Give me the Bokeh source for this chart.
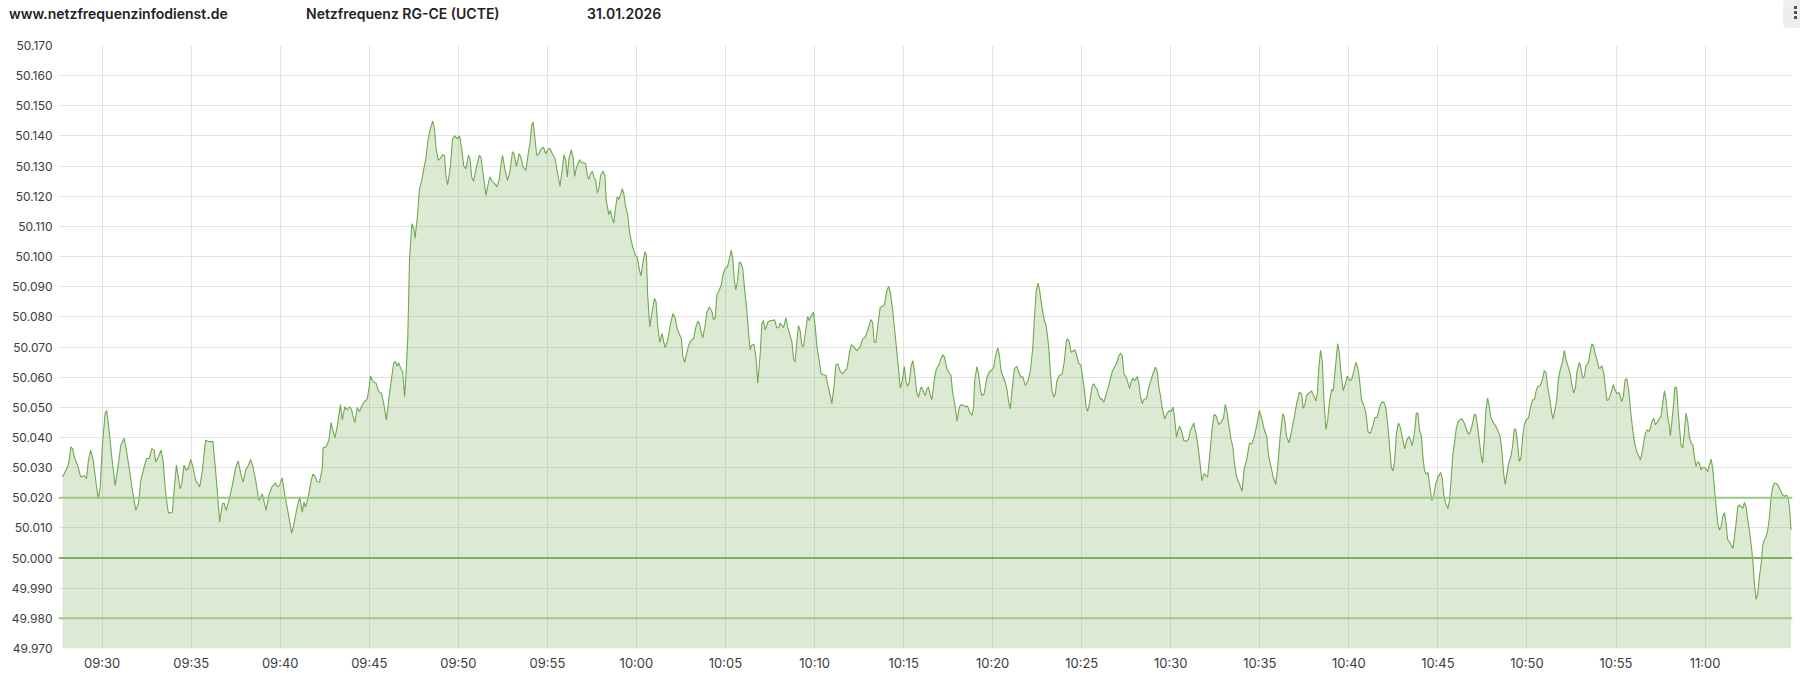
import pandas as pd
from bokeh.plotting import figure
from bokeh.layouts import column
from bokeh.models import (Range1d, FixedTicker, NumeralTickFormatter,
                          DatetimeTickFormatter, Span, Div)
from bokeh.embed import file_html
from bokeh.resources import INLINE

# ---------------- data ----------------
site_text = "www.netzfrequenzinfodienst.de"
title_text = "Netzfrequenz RG-CE (UCTE)"
date_text = "31.01.2026"
day = "2026-01-31"
reference_time = "09:30"

# minutes after 09:30
minutes = [
    -2.22, -2.13, -1.94, -1.85, -1.76, -1.66, -1.57, -1.38, -1.20, -1.01,
    -0.88, -0.77, -0.65, -0.50, -0.36, -0.22, -0.11, 0.02, 0.17, 0.26,
    0.39, 0.54, 0.73, 0.86, 1.05, 1.23, 1.36, 1.51, 1.70, 1.89,
    2.04, 2.17, 2.36, 2.49, 2.64, 2.79, 2.92, 3.01, 3.16, 3.31,
    3.42, 3.57, 3.72, 3.94, 4.06, 4.17, 4.28, 4.37, 4.47, 4.60,
    4.73, 4.84, 4.97, 5.10, 5.25, 5.48, 5.63, 5.81, 6.00, 6.22,
    6.37, 6.52, 6.60, 6.75, 6.84, 6.97, 7.12, 7.31, 7.50, 7.64,
    7.78, 7.91, 8.06, 8.21, 8.34, 8.47, 8.62, 8.80, 8.99, 9.21,
    9.36, 9.55, 9.74, 9.83, 9.96, 10.11, 10.26, 10.49, 10.64, 10.77,
    10.95, 11.10, 11.23, 11.33, 11.42, 11.57, 11.70, 11.83, 11.98, 12.07,
    12.21, 12.36, 12.41, 12.58, 12.73, 12.86, 12.95, 13.07, 13.20, 13.38,
    13.48, 13.63, 13.76, 13.89, 14.00, 14.07, 14.19, 14.32, 14.45, 14.56,
    14.69, 14.88, 14.97, 15.07, 15.20, 15.38, 15.53, 15.68, 15.81, 15.96,
    16.09, 16.19, 16.37, 16.47, 16.56, 16.65, 16.80,
    16.88, 16.98, 17.07, 17.16, 17.26, 17.39, 17.50, 17.57, 17.69, 17.82,
    17.95, 18.06, 18.19, 18.28, 18.43, 18.56, 18.66, 18.75, 18.88, 18.99,
    19.12, 19.22, 19.31, 19.40, 19.55, 19.68, 19.81, 19.93, 20.07, 20.19,
    20.30, 20.43, 20.56, 20.65, 20.75, 20.86, 20.99, 21.18, 21.27, 21.40,
    21.55, 21.68, 21.77, 21.92, 22.05, 22.16, 22.29, 22.39, 22.48, 22.61,
    22.76, 22.89, 23.04, 23.13, 23.26, 23.41, 23.51, 23.64, 23.79, 23.94,
    24.03, 24.12, 24.20, 24.29, 24.40, 24.53, 24.63, 24.78, 24.91, 25.00,
    25.13, 25.28, 25.43, 25.56, 25.71, 25.84, 25.93, 26.03, 26.12, 26.21,
    26.34, 26.44, 26.53, 26.64, 26.81, 26.92, 27.05, 27.15, 27.24, 27.33,
    27.43, 27.52, 27.61, 27.71, 27.80, 27.89, 27.99, 28.12, 28.23, 28.30,
    28.45, 28.54, 28.64, 28.73, 28.82, 28.92, 29.01, 29.10, 29.20, 29.29,
    29.38, 29.51, 29.61, 29.72, 29.81, 29.94, 30.04, 30.17, 30.26, 30.37,
    30.47, 30.56, 30.63, 30.75, 30.88, 31.01, 31.10, 31.19, 31.31, 31.44,
    31.53, 31.62, 31.75, 31.90, 32.05, 32.18, 32.28, 32.43, 32.52, 32.61,
    32.71, 32.84, 32.93, 33.08, 33.21, 33.34, 33.45, 33.54, 33.64, 33.73,
    33.86, 33.96, 34.10, 34.24, 34.33, 34.42, 34.51, 34.65, 34.76, 34.85,
    34.98, 35.11, 35.22, 35.32, 35.41, 35.49, 35.58, 35.67, 35.78, 35.88,
    35.97, 36.06, 36.19, 36.29, 36.38, 36.47, 36.60, 36.72, 36.81,
    36.95, 37.04, 37.13, 37.23, 37.38, 37.51, 37.64, 37.75, 37.88, 37.98,
    38.07, 38.16, 38.26, 38.39, 38.50, 38.63, 38.73, 38.82, 38.91, 39.01,
    39.10, 39.19, 39.29, 39.38, 39.48, 39.61, 39.70, 39.81, 39.94, 40.04,
    40.15, 40.26, 40.37, 40.51, 40.64, 40.73, 40.82, 40.97, 41.09, 41.20,
    41.31, 41.44, 41.57, 41.69, 41.82, 41.95, 42.06, 42.19, 42.28, 42.38,
    42.57, 42.70, 42.85, 43.03, 43.16, 43.26, 43.35, 43.45, 43.56, 43.69,
    43.78, 43.93, 44.06, 44.16, 44.25, 44.38, 44.53, 44.68, 44.81, 44.91,
    45.04, 45.13, 45.22, 45.32, 45.43, 45.52, 45.62, 45.73, 45.84, 45.96,
    46.03, 46.12, 46.22, 46.31, 46.40, 46.50, 46.59, 46.72, 46.84, 46.97,
    47.10, 47.21, 47.30, 47.43, 47.57, 47.66, 47.75, 47.90, 48.00, 48.13,
    48.24, 48.37, 48.50, 48.60, 48.71, 48.84, 48.93, 48.99, 49.12, 49.21,
    49.31, 49.40, 49.51, 49.59, 49.68, 49.81, 49.93, 50.06, 50.15, 50.28,
    50.37, 50.47, 50.58, 50.71, 50.81, 50.90, 50.99, 51.09, 51.22, 51.37,
    51.46, 51.59, 51.69, 51.84, 51.99, 52.12, 52.25, 52.36, 52.45, 52.55,
    52.64, 52.77, 52.90, 53.01, 53.15, 53.24, 53.33, 53.43, 53.52, 53.61,
    53.75, 53.90, 54.03, 54.14, 54.21, 54.31, 54.40, 54.49, 54.61, 54.70,
    54.83, 54.96, 55.06, 55.15, 55.24, 55.34, 55.45, 55.58, 55.67, 55.77,
    55.86, 55.96, 56.05, 56.14, 56.24, 56.33, 56.46, 56.61,
    56.72, 56.81, 56.96, 57.09, 57.18, 57.28, 57.37, 57.52, 57.69, 57.78,
    57.87, 57.97, 58.12, 58.21, 58.30, 58.40, 58.49, 58.64, 58.73, 58.86,
    59.01, 59.14, 59.24, 59.33, 59.42, 59.51, 59.66, 59.79, 59.93, 60.02,
    60.13, 60.21, 60.32, 60.41, 60.50, 60.60, 60.73, 60.88, 61.01, 61.10,
    61.19, 61.29, 61.42, 61.51, 61.62, 61.75, 61.87, 61.98, 62.07, 62.18,
    62.31, 62.44, 62.56, 62.69, 62.82, 62.97, 63.06, 63.15, 63.25, 63.38,
    63.49, 63.58, 63.71, 63.86, 64.01, 64.12, 64.27, 64.42, 64.55, 64.68,
    64.83, 64.98, 65.11, 65.24, 65.39, 65.49, 65.62, 65.76, 65.90, 66.01,
    66.14, 66.29, 66.38, 66.51, 66.64, 66.79, 66.94, 67.07, 67.22, 67.35,
    67.44, 67.54, 67.63, 67.78, 67.91, 68.04, 68.15, 68.23, 68.32, 68.41,
    68.51, 68.60, 68.71, 68.81, 68.90, 69.03, 69.12, 69.25, 69.37, 69.46,
    69.55, 69.68, 69.81, 69.91, 70.02, 70.15, 70.28, 70.39, 70.49, 70.58,
    70.71, 70.84, 70.95, 71.08, 71.21, 71.36, 71.46, 71.59, 71.70, 71.83,
    71.96, 72.07, 72.20, 72.29, 72.39, 72.48, 72.57, 72.67, 72.78, 72.89,
    73.00, 73.13, 73.26, 73.38, 73.47, 73.56, 73.69, 73.79, 73.88, 73.97,
    74.07, 74.16, 74.25, 74.35, 74.44, 74.53, 74.66, 74.78, 74.87, 75.00,
    75.15, 75.24, 75.34, 75.43, 75.56, 75.65, 75.75, 75.84, 75.93, 76.03,
    76.12, 76.21, 76.34, 76.46, 76.59, 76.72, 76.81, 76.92, 77.05,
    77.13, 77.23, 77.32, 77.42, 77.51, 77.60, 77.70, 77.79, 77.88, 77.98,
    78.11, 78.26, 78.39, 78.50, 78.60, 78.69, 78.78, 78.88, 78.97, 79.10,
    79.19, 79.29, 79.38, 79.48, 79.57, 79.66, 79.76, 79.85, 79.98, 80.09,
    80.19, 80.32, 80.41, 80.51, 80.60, 80.75, 80.88, 80.97, 81.07, 81.16,
    81.29, 81.39, 81.46, 81.57, 81.67, 81.76, 81.87, 82.00, 82.10, 82.19,
    82.28, 82.42, 82.51, 82.62, 82.72, 82.81, 82.94, 83.03, 83.13, 83.22,
    83.31, 83.45, 83.56, 83.65, 83.75, 83.84, 83.93, 84.03, 84.12, 84.21,
    84.31, 84.40, 84.49, 84.59, 84.72, 84.85, 84.94, 85.04, 85.19, 85.32,
    85.41, 85.51, 85.60, 85.71, 85.81, 85.94, 86.03, 86.16, 86.25, 86.37,
    86.46, 86.55, 86.65, 86.74, 86.84, 86.93, 87.02, 87.12, 87.21, 87.30,
    87.40, 87.53, 87.62, 87.72, 87.81, 87.90, 88.00, 88.05, 88.13, 88.22,
    88.31, 88.41, 88.46, 88.56, 88.65, 88.75, 88.84, 88.93, 89.03, 89.12,
    89.21, 89.31, 89.40, 89.49, 89.59, 89.68, 89.78, 89.87, 89.96, 90.06,
    90.15, 90.24, 90.34, 90.43, 90.52, 90.62, 90.71, 90.81, 90.90, 90.99,
    91.09, 91.18, 91.27, 91.37, 91.46, 91.57, 91.65, 91.74, 91.84, 91.93,
    92.02, 92.12, 92.21, 92.30, 92.40, 92.49, 92.58, 92.68, 92.77, 92.87,
    92.96, 93.05, 93.15, 93.24, 93.33, 93.43, 93.52, 93.61, 93.71, 93.80,
    93.90, 93.99, 94.08, 94.18, 94.27, 94.36, 94.46, 94.55, 94.64, 94.74, 94.79, 94.83,
]

# grid frequency in Hz
freq = [
    50.0269, 50.0280, 50.0302, 50.0324, 50.0369, 50.0363, 50.0336, 50.0308, 50.0269, 50.0274,
    50.0263, 50.0324, 50.0358, 50.0324, 50.0258, 50.0197, 50.0236, 50.0380, 50.0480, 50.0489,
    50.0424, 50.0336, 50.0241, 50.0291, 50.0374, 50.0397, 50.0358, 50.0302, 50.0224, 50.0158,
    50.0180, 50.0258, 50.0302, 50.0330, 50.0330, 50.0363, 50.0358, 50.0319, 50.0336, 50.0358,
    50.0324, 50.0213, 50.0149, 50.0152, 50.0236, 50.0308, 50.0269, 50.0230, 50.0247, 50.0308,
    50.0291, 50.0297, 50.0327, 50.0302, 50.0258, 50.0236, 50.0291, 50.0391, 50.0386, 50.0386,
    50.0291, 50.0180, 50.0119, 50.0180, 50.0182, 50.0158, 50.0191, 50.0241, 50.0302, 50.0322,
    50.0280, 50.0252, 50.0291, 50.0308, 50.0327, 50.0302, 50.0258, 50.0191, 50.0213, 50.0158,
    50.0208, 50.0238, 50.0249, 50.0236, 50.0241, 50.0266, 50.0208, 50.0136, 50.0082, 50.0113,
    50.0169, 50.0204, 50.0152, 50.0186, 50.0169, 50.0202, 50.0247, 50.0278, 50.0269, 50.0252,
    50.0252, 50.0297, 50.0366, 50.0369, 50.0391, 50.0449, 50.0424, 50.0399, 50.0436, 50.0508,
    50.0458, 50.0502, 50.0491, 50.0502, 50.0493, 50.0474, 50.0449, 50.0499, 50.0486, 50.0502,
    50.0516, 50.0527, 50.0558, 50.0604, 50.0586, 50.0580, 50.0552, 50.0547, 50.0513, 50.0458,
    50.0524, 50.0569, 50.0647, 50.0652, 50.0636, 50.0647, 50.0624,
    50.0618, 50.0535, 50.0618, 50.0728, 50.0993, 50.1109, 50.1093, 50.1060, 50.1126, 50.1225,
    50.1253, 50.1291, 50.1330, 50.1380, 50.1424, 50.1449, 50.1424, 50.1358, 50.1319, 50.1325,
    50.1338, 50.1336, 50.1264, 50.1238, 50.1297, 50.1391, 50.1400, 50.1391, 50.1400, 50.1358,
    50.1302, 50.1291, 50.1336, 50.1325, 50.1264, 50.1250, 50.1291, 50.1336, 50.1330, 50.1269,
    50.1203, 50.1242, 50.1264, 50.1247, 50.1242, 50.1231, 50.1253, 50.1302, 50.1336, 50.1291,
    50.1253, 50.1280, 50.1347, 50.1341, 50.1299, 50.1341, 50.1330, 50.1297, 50.1286, 50.1347,
    50.1380, 50.1435, 50.1446, 50.1396, 50.1336, 50.1341, 50.1355, 50.1363, 50.1341, 50.1352,
    50.1360, 50.1341, 50.1325, 50.1280, 50.1233, 50.1291, 50.1338, 50.1319, 50.1264, 50.1325,
    50.1354, 50.1330, 50.1266, 50.1297, 50.1321, 50.1311, 50.1311, 50.1308, 50.1269, 50.1256,
    50.1275, 50.1283, 50.1264, 50.1253, 50.1212, 50.1225, 50.1269, 50.1283, 50.1269, 50.1187,
    50.1139, 50.1153, 50.1126, 50.1111, 50.1159, 50.1198, 50.1189, 50.1203, 50.1225, 50.1209,
    50.1170, 50.1137, 50.1082, 50.1049, 50.1029, 50.1004, 50.0999, 50.0955, 50.0936, 50.0982,
    50.1015, 50.1004, 50.0872, 50.0767, 50.0817, 50.0861, 50.0850, 50.0773, 50.0715, 50.0745,
    50.0717, 50.0698, 50.0723, 50.0773, 50.0811, 50.0795, 50.0762, 50.0740, 50.0728, 50.0668,
    50.0649, 50.0684, 50.0706, 50.0723, 50.0728, 50.0767, 50.0786, 50.0778, 50.0745, 50.0731,
    50.0773, 50.0817, 50.0833, 50.0817, 50.0791, 50.0795, 50.0872, 50.0889, 50.0905, 50.0938,
    50.0960, 50.0966, 50.0993, 50.1021, 50.0993, 50.0927, 50.0889, 50.0916, 50.0982, 50.0977,
    50.0960, 50.0900, 50.0828, 50.0751, 50.0690, 50.0706, 50.0709, 50.0662, 50.0580,
    50.0677, 50.0777, 50.0788, 50.0757, 50.0782, 50.0788, 50.0788, 50.0790, 50.0764, 50.0764,
    50.0779, 50.0771, 50.0764, 50.0797, 50.0764, 50.0738, 50.0716, 50.0661, 50.0650, 50.0722,
    50.0771, 50.0755, 50.0705, 50.0702, 50.0744, 50.0801, 50.0788, 50.0804, 50.0815, 50.0766,
    50.0694, 50.0655, 50.0611, 50.0608, 50.0606, 50.0578, 50.0556, 50.0512, 50.0567, 50.0642,
    50.0644, 50.0620, 50.0611, 50.0620, 50.0628, 50.0677, 50.0708, 50.0702, 50.0694, 50.0688,
    50.0702, 50.0727, 50.0733, 50.0764, 50.0791, 50.0782, 50.0716, 50.0716, 50.0777, 50.0832,
    50.0834, 50.0840, 50.0887, 50.0901, 50.0882, 50.0827, 50.0738, 50.0650, 50.0564, 50.0583,
    50.0635, 50.0589, 50.0570, 50.0583, 50.0639, 50.0655, 50.0617, 50.0550, 50.0534, 50.0564,
    50.0567, 50.0550, 50.0539, 50.0561, 50.0567, 50.0539, 50.0525, 50.0589, 50.0628, 50.0639,
    50.0661, 50.0674, 50.0666, 50.0628, 50.0613, 50.0606, 50.0550, 50.0501, 50.0454, 50.0501,
    50.0509, 50.0506, 50.0503, 50.0503, 50.0484, 50.0473, 50.0501, 50.0589, 50.0635, 50.0611,
    50.0561, 50.0539, 50.0543, 50.0567, 50.0600, 50.0617, 50.0622, 50.0633, 50.0666, 50.0697,
    50.0677, 50.0622, 50.0602, 50.0583, 50.0556, 50.0517, 50.0495, 50.0556, 50.0628, 50.0636,
    50.0617, 50.0600, 50.0602, 50.0572, 50.0589, 50.0622, 50.0694, 50.0810, 50.0887, 50.0912,
    50.0887, 50.0832, 50.0788, 50.0771, 50.0699, 50.0617, 50.0556, 50.0534, 50.0545, 50.0589,
    50.0606, 50.0609, 50.0655, 50.0722, 50.0727, 50.0716, 50.0683, 50.0685, 50.0691, 50.0677,
    50.0646, 50.0639, 50.0594, 50.0561, 50.0501, 50.0487, 50.0517, 50.0567, 50.0578, 50.0567,
    50.0561, 50.0539, 50.0528, 50.0528, 50.0517, 50.0534, 50.0561, 50.0594,
    50.0619, 50.0630, 50.0646, 50.0671, 50.0680, 50.0669, 50.0613, 50.0596, 50.0563, 50.0585,
    50.0596, 50.0588, 50.0602, 50.0579, 50.0535, 50.0512, 50.0526, 50.0529, 50.0557, 50.0585,
    50.0613, 50.0633, 50.0619, 50.0568, 50.0540, 50.0501, 50.0462, 50.0479, 50.0490, 50.0485,
    50.0501, 50.0468, 50.0401, 50.0423, 50.0437, 50.0423, 50.0390, 50.0387, 50.0395, 50.0423,
    50.0434, 50.0448, 50.0412, 50.0379, 50.0328, 50.0256, 50.0280, 50.0273, 50.0269, 50.0334,
    50.0423, 50.0477, 50.0470, 50.0443, 50.0450, 50.0466, 50.0510, 50.0490, 50.0446, 50.0395,
    50.0367, 50.0312, 50.0267, 50.0245, 50.0222, 50.0295, 50.0328, 50.0381, 50.0379, 50.0401,
    50.0440, 50.0490, 50.0462, 50.0429, 50.0403, 50.0340, 50.0306, 50.0267, 50.0245, 50.0306,
    50.0401, 50.0479, 50.0466, 50.0401, 50.0382, 50.0423, 50.0468, 50.0512, 50.0550, 50.0544,
    50.0496, 50.0512, 50.0540, 50.0548, 50.0554, 50.0537, 50.0521, 50.0546, 50.0635, 50.0689,
    50.0652, 50.0524, 50.0427, 50.0457, 50.0512, 50.0559, 50.0554, 50.0635, 50.0711, 50.0685,
    50.0619, 50.0555, 50.0579, 50.0604, 50.0591, 50.0591, 50.0619, 50.0649, 50.0635, 50.0602,
    50.0524, 50.0507, 50.0485, 50.0418, 50.0414, 50.0440, 50.0466, 50.0466, 50.0496, 50.0515,
    50.0518, 50.0501, 50.0434, 50.0367, 50.0300, 50.0289, 50.0323, 50.0412, 50.0448, 50.0434,
    50.0401, 50.0362, 50.0392, 50.0403, 50.0390, 50.0373, 50.0418, 50.0481, 50.0479, 50.0423,
    50.0406, 50.0334, 50.0289, 50.0278, 50.0284, 50.0245, 50.0191, 50.0211, 50.0245, 50.0267,
    50.0284, 50.0267, 50.0206, 50.0183, 50.0164, 50.0189, 50.0267, 50.0345, 50.0379, 50.0429,
    50.0451, 50.0457, 50.0462, 50.0451, 50.0429, 50.0410, 50.0418, 50.0440, 50.0477,
    50.0475, 50.0436, 50.0392, 50.0342, 50.0315, 50.0392, 50.0492, 50.0531, 50.0503, 50.0464,
    50.0450, 50.0436, 50.0420, 50.0403, 50.0348, 50.0281, 50.0243, 50.0281, 50.0315, 50.0337,
    50.0370, 50.0429, 50.0425, 50.0376, 50.0320, 50.0331, 50.0403, 50.0442, 50.0461, 50.0464,
    50.0497, 50.0525, 50.0525, 50.0553, 50.0569, 50.0572, 50.0594, 50.0622, 50.0614, 50.0569,
    50.0525, 50.0481, 50.0461, 50.0492, 50.0525, 50.0591, 50.0625, 50.0652, 50.0689, 50.0658,
    50.0641, 50.0614, 50.0580, 50.0547, 50.0564, 50.0619, 50.0649, 50.0630, 50.0597, 50.0603,
    50.0636, 50.0649, 50.0686, 50.0711, 50.0702, 50.0675, 50.0658, 50.0630, 50.0630, 50.0638,
    50.0614, 50.0569, 50.0523, 50.0525, 50.0547, 50.0575, 50.0558, 50.0547, 50.0547, 50.0519,
    50.0536, 50.0591, 50.0595, 50.0558, 50.0492, 50.0425, 50.0387, 50.0353, 50.0342, 50.0326,
    50.0348, 50.0381, 50.0414, 50.0425, 50.0420, 50.0431, 50.0453, 50.0464, 50.0442, 50.0448,
    50.0459, 50.0470, 50.0514, 50.0555, 50.0525, 50.0470, 50.0436, 50.0405, 50.0448, 50.0503,
    50.0567, 50.0564, 50.0514, 50.0436, 50.0376, 50.0364, 50.0420, 50.0481, 50.0453, 50.0403,
    50.0381, 50.0376, 50.0337, 50.0304, 50.0320, 50.0315, 50.0292, 50.0301, 50.0301, 50.0295,
    50.0287, 50.0309, 50.0328, 50.0298, 50.0237, 50.0171, 50.0115, 50.0093, 50.0104, 50.0137,
    50.0151, 50.0115, 50.0060, 50.0054, 50.0043, 50.0032, 50.0071, 50.0115, 50.0171, 50.0176,
    50.0171, 50.0165, 50.0184, 50.0171, 50.0126, 50.0093, 50.0049, 49.9993, 49.9916, 49.9863,
    49.9883, 49.9938, 49.9982, 50.0043, 50.0060, 50.0071, 50.0093, 50.0132, 50.0204, 50.0237,
    50.0248, 50.0248, 50.0243, 50.0232, 50.0220, 50.0209, 50.0204, 50.0209, 50.0204, 50.0171, 50.0126, 50.0093,
]

y_ticks = [round(49.97 + 0.01 * i, 3) for i in range(21)]
x_tick_minutes = [5 * i for i in range(19)]          # 09:30 ... 11:00
limit_lines = [50.02, 49.98]
nominal = 50.0
y_bottom, y_top = 49.97, 50.17
x_left_min, x_right_min = -2.45, 94.91

# --------------- build ---------------
n = min(len(minutes), len(freq))
base = pd.Timestamp(f"{day} {reference_time}")
times = base + pd.to_timedelta(minutes[:n], unit="m")
vals = freq[:n]

def ms(m):
    return (base + pd.Timedelta(minutes=m) - pd.Timestamp("1970-01-01")) / pd.Timedelta(milliseconds=1)

FONT = "Inter"
PAGE_W = 1800
HEAD_H = 30

# ---- header strip: site, title, date and the small menu button ----
span_css = ("position:absolute;top:5px;line-height:17px;font-family:Inter,sans-serif;"
            "font-size:14px;font-weight:600;color:#222222;white-space:nowrap;")
dot_css = "position:absolute;left:11px;width:3px;height:3px;background:#555555;"
header_html = (
    f'<div style="position:relative;width:{PAGE_W}px;height:{HEAD_H}px;">'
    f'<span style="{span_css}left:9px;">{site_text}</span>'
    f'<span style="{span_css}left:306px;">{title_text}</span>'
    f'<span style="{span_css}left:587px;">{date_text}</span>'
    '<div style="position:absolute;left:1783px;top:0px;width:24px;height:28px;'
    'background:#eeeeee;border-radius:4px;">'
    f'<div style="{dot_css}top:6px;"></div>'
    f'<div style="{dot_css}top:11px;"></div>'
    f'<div style="{dot_css}top:16px;"></div>'
    '</div></div>'
)
head = Div(text=header_html, width=PAGE_W, height=HEAD_H, margin=0)

# ---- main chart ----
FRAME_W, FRAME_H = 1734, 603
p = figure(
    frame_width=FRAME_W, frame_height=FRAME_H,
    x_axis_type="datetime",
    x_range=Range1d(ms(x_left_min), ms(x_right_min)),
    y_range=Range1d(y_bottom, y_top),
    output_backend="svg", toolbar_location=None,
    min_border_left=58, min_border_right=8, min_border_top=45 - HEAD_H, min_border_bottom=25,
    background_fill_color="white", border_fill_color="white",
    outline_line_color=None, margin=0,
)

p.varea(x=times, y1=y_bottom, y2=vals, fill_color="#7db35f", fill_alpha=0.27)
p.line(x=times, y=vals, line_color="#6fa94f", line_width=1.1)

for lv in limit_lines:
    p.add_layout(Span(location=lv, dimension="width", line_color="#9dc985", line_width=2))
p.add_layout(Span(location=nominal, dimension="width", line_color="#7fae66", line_width=2))

xt = FixedTicker(ticks=[ms(m) for m in x_tick_minutes])
p.xaxis.ticker = xt
p.xgrid.ticker = xt
p.xaxis.formatter = DatetimeTickFormatter(
    minutes="%H:%M", hourmin="%H:%M", hours="%H:%M", minsec="%H:%M", seconds="%H:%M")
yt = FixedTicker(ticks=y_ticks)
p.yaxis.ticker = yt
p.ygrid.ticker = yt
p.yaxis.formatter = NumeralTickFormatter(format="0.000")

for ax in (p.xaxis[0], p.yaxis[0]):
    ax.axis_line_color = None
    ax.major_tick_line_color = None
    ax.minor_tick_line_color = None
    ax.major_tick_out = 0
    ax.major_tick_in = 0
    ax.major_label_text_font = FONT
    ax.major_label_text_color = "#3c3c3c"
p.xaxis.major_label_text_font_size = "13px"
p.yaxis.major_label_text_font_size = "12px"
p.xaxis.major_label_standoff = 6
p.yaxis.major_label_standoff = 6

p.xgrid.grid_line_color = "#e3e3e3"
p.ygrid.grid_line_color = "#e3e3e3"

layout = column(head, p, spacing=0)

html = file_html(layout, INLINE, title="Netzfrequenz RG-CE (UCTE)")
html = html.replace("</head>", "<style>html,body{overflow:hidden;}</style></head>", 1)
open("out.html", "w").write(html)
